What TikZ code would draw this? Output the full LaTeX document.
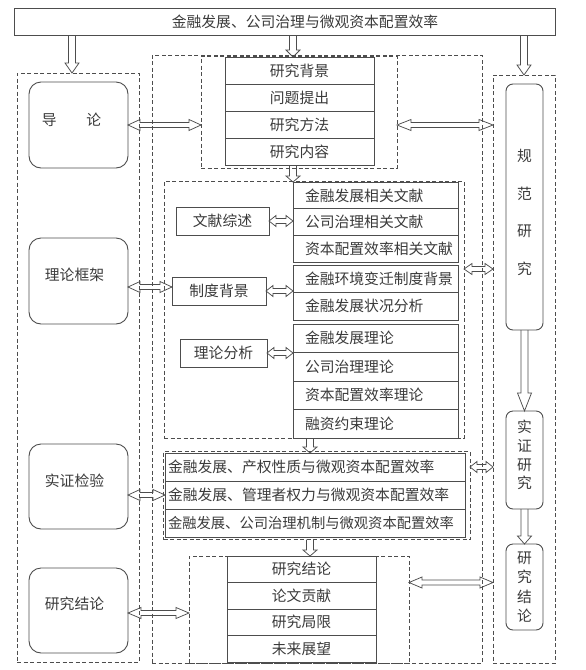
\documentclass[tikz,border=0pt]{standalone}
\usepackage{fontspec}
\newfontfamily\cjkf{Noto Sans CJK SC}
\usetikzlibrary{calc}
\definecolor{ln}{HTML}{4D4D4D}
\definecolor{tc}{HTML}{3A3A3A}
\begin{document}
\begin{tikzpicture}[x=1pt, y=-1pt,
  every node/.style={font=\cjkf\fontsize{14.8pt}{17pt}\selectfont, text=tc, inner sep=0pt, outer sep=0pt},
  sbox/.style={draw=ln, line width=0.9pt, anchor=north west},
  rbox/.style={draw=ln, line width=0.9pt, anchor=north west, rounded corners=12pt, minimum width=99pt},
  vbox/.style={draw=ln, line width=0.9pt, anchor=north west, rounded corners=7pt, minimum width=37pt},
  dbox/.style={draw=ln, line width=0.75pt, dash pattern=on 4pt off 2.5pt, anchor=north west},
  trow/.style={sbox, minimum width=149pt, minimum height=27pt},
  brow/.style={sbox, minimum width=149pt, minimum height=26.5pt},
  mrow/.style={sbox, minimum width=165pt, inner xsep=12pt, text width=141pt, align=left, minimum height=#1},
  erow/.style={sbox, minimum width=300pt, inner xsep=3pt, text width=294pt, align=left, minimum height=28pt},
  ctext/.style={anchor=center, align=center},
  vfont/.style={font={\cjkf\fontsize{14.8pt}{#1}\selectfont}},
  varrow/.style={draw=ln, line width=0.75pt, to path={let \p1=(\tikztostart), \p2=(\tikztotarget) in
     (\x1-3.5pt,\y1) -- (\x1-3.5pt,\y2+#1) -- (\x1-7pt,\y2+#1) -- (\x1,\y2) -- (\x1+7pt,\y2+#1) -- (\x1+3.5pt,\y2+#1) -- (\x1+3.5pt,\y1)}},
  varrow/.default=10pt,
  harrow/.style={draw=ln, line width=0.75pt, to path={let \p1=(\tikztostart), \p2=(\tikztotarget) in
     (\x1,\y1) -- (\x1+#1,\y1+5.5pt) -- (\x1+#1,\y1+2.5pt) -- (\x2-#1,\y1+2.5pt) -- (\x2-#1,\y1+5.5pt) -- (\x2,\y1)
     -- (\x2-#1,\y1-5.5pt) -- (\x2-#1,\y1-2.5pt) -- (\x1+#1,\y1-2.5pt) -- (\x1+#1,\y1-5.5pt) -- cycle}},
  harrow/.default=12pt,
]
\useasboundingbox (0,0) rectangle (586,670);

% title
\node[sbox, minimum width=541pt, minimum height=27pt,
      label={[ctext, xshift=20.5pt]center:金融发展、公司治理与微观资本配置效率}] (title) at (14,8) {};

% dashed frames
\node[dbox, minimum width=122pt, minimum height=589pt] (ldash) at (17,73) {};
\node[dbox, minimum width=330pt, minimum height=608pt] (cdash) at (152,55) {};
\node[dbox, minimum width=62pt, minimum height=588pt] (rdash) at (493,75) {};
\node[dbox, minimum width=196pt, minimum height=112pt] (tdash) at (201,56) {};
\node[dbox, minimum width=300pt, minimum height=257pt] (mdash) at (164,181) {};
\node[dbox, minimum width=306.5pt, minimum height=88pt] (edash) at (163.5,451.5) {};
\node[dbox, minimum width=220pt, minimum height=107pt] (bdash) at (189,556) {};

% top list
\node[trow] (t1) at (225,57) {研究背景};
\node[trow] (t2) at (t1.south west) {问题提出};
\node[trow] (t3) at (t2.south west) {研究方法};
\node[trow] (t4) at (t3.south west) {研究内容};

% middle list
\node[mrow=26.67pt] (m1) at (293,182) {金融发展相关文献};
\node[mrow=26.67pt] (m2) at (m1.south west) {公司治理相关文献};
\node[mrow=26.67pt] (m3) at (m2.south west) {资本配置效率相关文献};
\node[mrow=27.5pt] (m4) at (293,265) {金融环境变迁制度背景};
\node[mrow=27.5pt] (m5) at (m4.south west) {金融发展状况分析};
\node[mrow=28.5pt] (m6) at (293,324) {金融发展理论};
\node[mrow=28.5pt] (m7) at (m6.south west) {公司治理理论};
\node[mrow=28.5pt] (m8) at (m7.south west) {资本配置效率理论};
\node[mrow=28.5pt] (m9) at (m8.south west) {融资约束理论};

% side boxes
\node[sbox, minimum width=93pt, minimum height=28pt] (wx) at (176,207) {文献综述};
\node[sbox, minimum width=94pt, minimum height=28pt] (zd) at (172,277) {制度背景};
\node[sbox, minimum width=87pt, minimum height=28pt] (ll) at (180,339) {理论分析};

% empirical list
\node[erow] (e1) at (165,453) {金融发展、产权性质与微观资本配置效率};
\node[erow] (e2) at (e1.south west) {金融发展、管理者权力与微观资本配置效率};
\node[erow, font=\cjkf\fontsize{14.3pt}{17pt}\selectfont] (e3) at (e2.south west) {金融发展、公司治理机制与微观资本配置效率};

% bottom list
\node[brow] (b1) at (227,556) {研究结论};
\node[brow] (b2) at (b1.south west) {论文贡献};
\node[brow] (b3) at (b2.south west) {研究局限};
\node[brow] (b4) at (b3.south west) {未来展望};

% left column
\node[rbox, minimum height=86pt, label={[ctext, xshift=-7pt, yshift=5pt]center:导　　论}] (dl) at (29,82) {};
\node[rbox, minimum height=86pt, label={[ctext, xshift=-4pt, yshift=6pt]center:理论框架}] (llk) at (29,238) {};
\node[rbox, minimum height=85pt, label={[ctext, xshift=-4pt, yshift=6pt]center:实证检验}] (sj) at (29,444) {};
\node[rbox, minimum height=85pt, label={[ctext, xshift=-4pt, yshift=7pt]center:研究结论}] (jlL) at (29,568) {};

% right column
\node[vbox, minimum height=246pt, label={[ctext, vfont=37.7pt, yshift=-5.5pt]center:规\\范\\研\\究}] (gf) at (506,84) {};
\node[vbox, minimum height=98pt, label={[ctext, vfont=18.7pt, yshift=5pt]center:实\\证\\研\\究}] (sz) at (506,411) {};
\node[vbox, minimum height=86pt, label={[ctext, vfont=19.3pt]center:研\\究\\结\\论}] (jlR) at (506,544) {};

% helper coordinates
\coordinate (xa) at (72,0);
\coordinate (xb) at (293,0);
\coordinate (xc) at (524,0);
\coordinate (xd) at (310,0);
\coordinate (yg) at (0,269);

% vertical arrows
\draw[varrow] (title.south -| xa) to (ldash.north);
\draw[varrow=7pt] (title.south -| xb) to (t1.north);
\draw[varrow] (title.south -| xc) to (rdash.north);
\draw[varrow=6pt] (t4.south -| xb) to (m1.north);
\draw[varrow=6pt] (m9.south -| xd) to (e1.north);
\draw[varrow=6pt] (edash.south -| xd) to (b1.north);
\draw[varrow=18pt] (gf.south) to (sz.north);
\draw[varrow=8pt] (sz.south) to (jlR.north);

% double arrows
\draw[harrow] (dl.east) to (tdash.west);
\draw[harrow=14pt] (tdash.east |- dl.east) to (rdash.west);
\draw[harrow] ([yshift=-6pt]llk.east) to (zd.west);
\draw[harrow=7pt] (wx.east) to (m2.west);
\draw[harrow=7pt] (zd.east) to (m4.west);
\draw[harrow=7pt] (ll.east) to (m6.west);
\draw[harrow=8pt] (mdash.east |- yg) to (rdash.west);
\draw[harrow] (sj.east |- e2.west) to (e2.west);
\draw[harrow=7pt] (edash.east |- e1.east) to (rdash.west);
\draw[harrow=13pt] ([yshift=-2.5pt]jlL.east) to (bdash.west);
\draw[harrow=13pt] (bdash.east |- b2.north) to (rdash.west);
\end{tikzpicture}
\end{document}
